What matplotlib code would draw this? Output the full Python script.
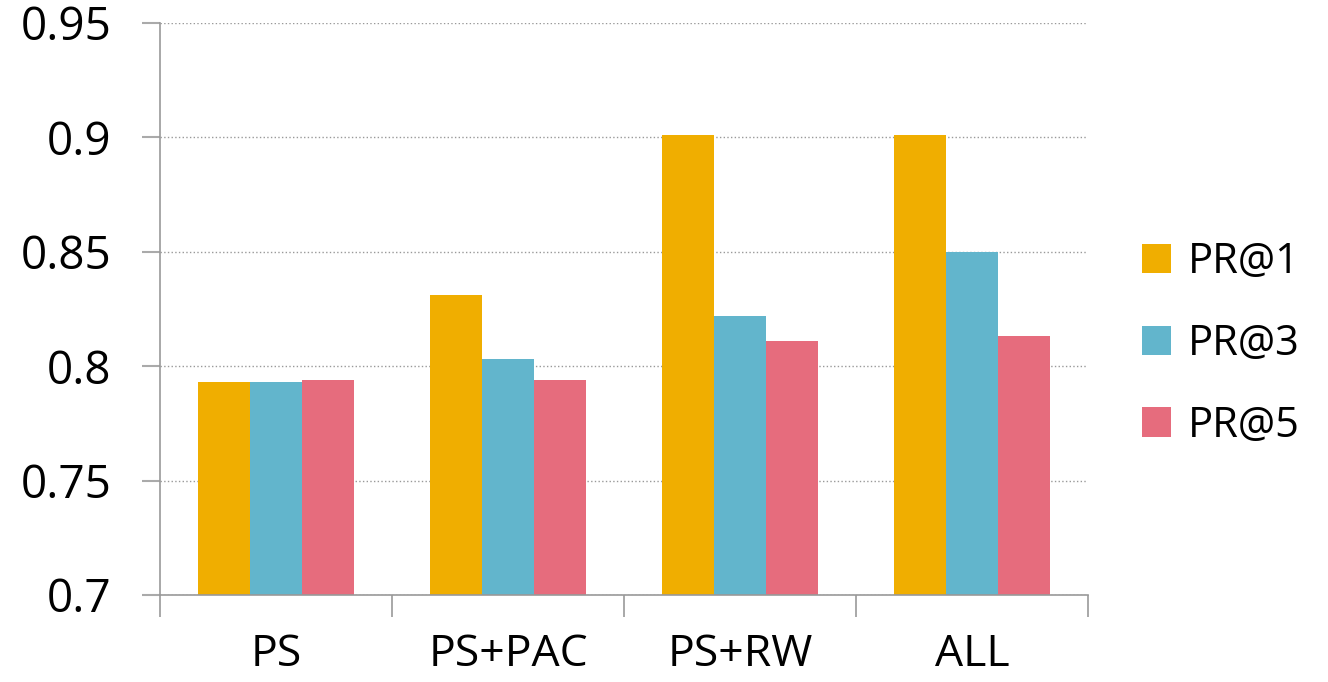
import numpy as np
import matplotlib.pyplot as plt

# data
categories = ["PS", "PS+PAC", "PS+RW", "ALL"]
pr1 = [0.793, 0.831, 0.901, 0.901]
pr3 = [0.793, 0.803, 0.822, 0.850]
pr5 = [0.794, 0.794, 0.811, 0.813]
series_names = ["PR@1", "PR@3", "PR@5"]
colors = ["#F0AE00", "#62B5CC", "#E66C7D"]
y_ticks = [0.7, 0.75, 0.8, 0.85, 0.9, 0.95]
y_tick_labels = ["0.7", "0.75", "0.8", "0.85", "0.9", "0.95"]

plt.rcParams['font.family'] = ['Open Sans', 'DejaVu Sans']

fig = plt.figure(figsize=(13.28, 6.82), dpi=100)
ax = fig.add_axes([160 / 1328, 87 / 682, 928 / 1328, 572 / 682])

x = np.arange(len(categories)) + 0.5
w = 0.224
for i, (vals, name, c) in enumerate(zip([pr1, pr3, pr5], series_names, colors)):
    ax.bar(x + (i - 1) * w, vals, width=w, color=c, label=name, zorder=2)

ax.set_xlim(0, len(categories))
ax.set_ylim(0.7, 0.95)
ax.set_yticks(y_ticks)
ax.set_yticklabels(y_tick_labels)
ax.yaxis.grid(True, linestyle=':', color='#999999', linewidth=1, zorder=0)

# group separators as major ticks, names as minor ticks
ax.set_xticks(np.arange(len(categories) + 1))
ax.set_xticklabels([])
ax.set_xticks(x, minor=True)
ax.set_xticklabels(categories, minor=True)
ax.tick_params(axis='x', which='major', length=16, width=1.2, color='#999999')
ax.tick_params(axis='x', which='minor', length=0, pad=27, labelsize=32)
ax.tick_params(axis='y', length=13, width=1.5, color='#aaaaaa', pad=22, labelsize=33)

for s in ['top', 'right']:
    ax.spines[s].set_visible(False)
for s in ['left', 'bottom']:
    ax.spines[s].set_color('#999999')
    ax.spines[s].set_linewidth(1.2)

fig.legend(loc='center left', bbox_to_anchor=(1142 / 1328, 338 / 682), frameon=False,
           fontsize=30, handlelength=0.7, handleheight=0.7, handletextpad=0.4,
           labelspacing=0.95, borderpad=0, borderaxespad=0)

fig.savefig("out.png", dpi=100)
